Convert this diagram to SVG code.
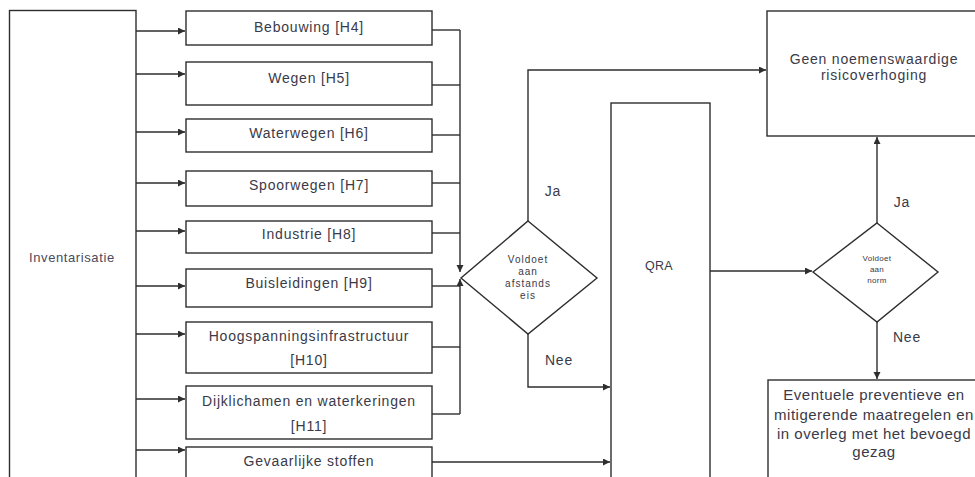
<svg xmlns="http://www.w3.org/2000/svg" width="975" height="477" viewBox="0 0 975 477">
<style>
.box{fill:#fff;stroke:#2e2e2e;stroke-width:1.4}
.ln{fill:none;stroke:#2e2e2e;stroke-width:1.4}
.t{font-family:"Liberation Sans",Arial,sans-serif;font-size:14px;letter-spacing:0.8px;fill:#3a3a48;text-anchor:middle}
.s{font-family:"Liberation Sans",Arial,sans-serif;font-size:10px;letter-spacing:1px;fill:#3a3a48;text-anchor:middle}
.xs{font-family:"Liberation Sans",Arial,sans-serif;font-size:8px;letter-spacing:0.3px;fill:#3a3a48;text-anchor:middle}
.e{font-family:"Liberation Sans",Arial,sans-serif;font-size:15px;letter-spacing:0.5px;fill:#3a3a48;text-anchor:middle}
</style>
<defs>
<marker id="ah" markerUnits="userSpaceOnUse" markerWidth="8" markerHeight="8" refX="7" refY="3.5" orient="auto">
<path d="M0,0 L7,3.5 L0,7 Z" fill="#2e2e2e"/>
</marker>
</defs>
<rect width="975" height="477" fill="#fff"/>

<g id="inventarisatie">
<rect class="box" x="9.5" y="10.5" width="126.5" height="480"/>
<text class="t" style="text-anchor:start;font-size:13px;letter-spacing:0.6px;fill:#4a4a5c" x="29" y="262">Inventarisatie</text>
</g>

<g id="bebouwing"><rect class="box" x="186" y="11" width="246" height="34"/><text class="t" x="309" y="32">Bebouwing [H4]</text></g>
<g id="wegen"><rect class="box" x="186" y="62" width="246" height="43"/><text class="t" x="309" y="83">Wegen [H5]</text></g>
<g id="waterwegen"><rect class="box" x="186" y="119" width="246" height="33"/><text class="t" x="309" y="138">Waterwegen [H6]</text></g>
<g id="spoorwegen"><rect class="box" x="186" y="171" width="246" height="35"/><text class="t" x="309" y="190">Spoorwegen [H7]</text></g>
<g id="industrie"><rect class="box" x="186" y="221" width="246" height="32"/><text class="t" x="309" y="239">Industrie [H8]</text></g>
<g id="buisleidingen"><rect class="box" x="186" y="269" width="246" height="38"/><text class="t" x="309" y="288">Buisleidingen [H9]</text></g>
<g id="hoogspanning"><rect class="box" x="186" y="322" width="246" height="51"/><text class="t" x="309" y="341">Hoogspanningsinfrastructuur</text><text class="t" x="309" y="365">[H10]</text></g>
<g id="dijklichamen"><rect class="box" x="186" y="386" width="246" height="53"/><text class="t" x="309" y="406">Dijklichamen en waterkeringen</text><text class="t" x="309" y="431">[H11]</text></g>
<g id="gevaarlijke"><rect class="box" x="186" y="447" width="246" height="40"/><text class="t" x="309" y="466">Gevaarlijke stoffen</text></g>

<g id="afstandseis">
<polygon class="box" points="528,221 597,278 528,334 461,278"/>
<text class="s" x="528" y="263">Voldoet</text>
<text class="s" x="528" y="275">aan</text>
<text class="s" x="528" y="287">afstands</text>
<text class="s" x="528" y="299">eis</text>
</g>

<g id="qra"><rect class="box" x="611" y="103" width="99" height="390"/><text class="t" style="font-size:12.5px;letter-spacing:0.3px" x="659" y="270">QRA</text></g>

<g id="norm">
<polygon class="box" points="877,223 938,272 877,322 813,272"/>
<text class="xs" x="877" y="261">Voldoet</text>
<text class="xs" x="877" y="272">aan</text>
<text class="xs" x="877" y="283">norm</text>
</g>

<g id="geen"><rect class="box" x="767" y="11" width="220" height="125"/><text class="t" x="874" y="64">Geen noemenswaardige</text><text class="t" x="874" y="80">risicoverhoging</text></g>

<g id="eventuele"><rect class="box" x="768" y="380" width="220" height="110"/>
<text class="e" x="874" y="400">Eventuele preventieve en</text>
<text class="e" x="874" y="420">mitigerende maatregelen en</text>
<text class="e" x="874" y="439">in overleg met het bevoegd</text>
<text class="e" x="874" y="457">gezag</text>
</g>

<g id="connectors">
<line class="ln" x1="136" y1="31" x2="185" y2="31" marker-end="url(#ah)"/>
<line class="ln" x1="136" y1="74" x2="185" y2="74" marker-end="url(#ah)"/>
<line class="ln" x1="136" y1="132" x2="185" y2="132" marker-end="url(#ah)"/>
<line class="ln" x1="136" y1="183" x2="185" y2="183" marker-end="url(#ah)"/>
<line class="ln" x1="136" y1="231" x2="185" y2="231" marker-end="url(#ah)"/>
<line class="ln" x1="136" y1="286" x2="185" y2="286" marker-end="url(#ah)"/>
<line class="ln" x1="136" y1="334" x2="185" y2="334" marker-end="url(#ah)"/>
<line class="ln" x1="136" y1="399" x2="185" y2="399" marker-end="url(#ah)"/>
<line class="ln" x1="136" y1="450" x2="185" y2="450" marker-end="url(#ah)"/>

<line class="ln" x1="432" y1="30" x2="460" y2="30"/>
<line class="ln" x1="432" y1="85" x2="460" y2="85"/>
<line class="ln" x1="432" y1="135" x2="460" y2="135"/>
<line class="ln" x1="432" y1="183" x2="460" y2="183"/>
<line class="ln" x1="432" y1="233" x2="460" y2="233"/>
<line class="ln" x1="432" y1="286" x2="460" y2="286"/>
<line class="ln" x1="432" y1="347" x2="460" y2="347"/>
<line class="ln" x1="432" y1="414" x2="460" y2="414"/>
<path class="ln" d="M460,30 V272" marker-end="url(#ah)"/>
<path class="ln" d="M460,414 V279" marker-end="url(#ah)"/>

<path class="ln" d="M528,221 V70 H766" marker-end="url(#ah)"/>
<text class="t" x="553" y="196">Ja</text>
<path class="ln" d="M528,334 V387 H610" marker-end="url(#ah)"/>
<text class="t" x="559" y="365">Nee</text>
<line class="ln" x1="432" y1="462" x2="610" y2="462" marker-end="url(#ah)"/>
<line class="ln" x1="710" y1="271" x2="812" y2="271" marker-end="url(#ah)"/>
<line class="ln" x1="877" y1="223" x2="877" y2="137" marker-end="url(#ah)"/>
<text class="t" x="902" y="207">Ja</text>
<line class="ln" x1="877" y1="322" x2="877" y2="379" marker-end="url(#ah)"/>
<text class="t" x="907" y="342">Nee</text>
</g>
</svg>
